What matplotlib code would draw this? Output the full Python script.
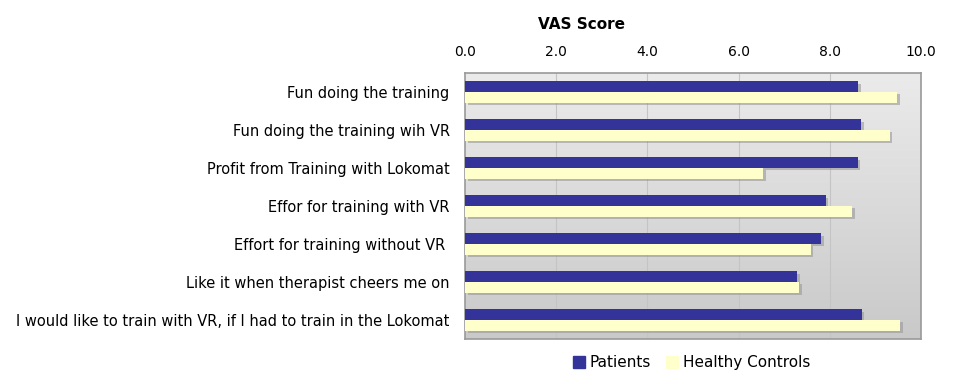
import numpy as np
import matplotlib
matplotlib.use("Agg")
from matplotlib import pyplot as plt
from matplotlib.patches import Patch

# data
labels = ["Fun doing the training",
          "Fun doing the training wih VR",
          "Profit from Training with Lokomat",
          "Effor for training with VR",
          "Effort for training without VR ",
          "Like it when therapist cheers me on",
          "I would like to train with VR, if I had to train in the Lokomat"]
patients = [8.62, 8.68, 8.61, 7.91, 7.81, 7.29, 8.70]
controls = [9.47, 9.31, 6.53, 8.49, 7.58, 7.33, 9.54]
ticks = [0, 2, 4, 6, 8, 10]

c_pat = "#343399"
c_con = "#ffffcc"

fig = plt.figure(figsize=(9.7, 3.82), dpi=100)
ax = fig.add_axes([0.4794, 0.1126, 0.4701, 0.6963])

n = len(labels)
y = np.arange(n)
h = 0.28

# gradient background
grad = np.linspace(0, 1, 256).reshape(-1, 1)
ax.imshow(grad, extent=[0, 10, n - 0.5, -0.5], aspect="auto",
          cmap=matplotlib.colors.LinearSegmentedColormap.from_list("g", ["#ebebeb", "#c9c9c9"]),
          zorder=0)

for t in ticks[1:-1]:
    ax.axvline(t, color="#c4c4c4", lw=0.8, zorder=1)

# shadows
sx, sy = 0.06, 0.06
ax.barh(y - h / 2 + sy, patients, height=h, left=sx, color="#999999", alpha=0.6, zorder=2)
ax.barh(y + h / 2 + sy, controls, height=h, left=sx, color="#999999", alpha=0.6, zorder=2)

ax.barh(y - h / 2, patients, height=h, color=c_pat, zorder=3)
ax.barh(y + h / 2, controls, height=h, color=c_con, zorder=3)

ax.set_xlim(0, 10)
ax.set_ylim(n - 0.5, -0.5)
ax.set_yticks(y)
ax.set_yticklabels(labels, fontsize=10.5)
ax.set_xticks(ticks)
ax.set_xticklabels(["%.1f" % t for t in ticks], fontsize=10)
ax.xaxis.tick_top()
ax.tick_params(axis="x", length=0, pad=10)
ax.tick_params(axis="y", length=0, pad=11)
for s in ax.spines.values():
    s.set_color("#999999")
    s.set_linewidth(1.2)

fig.text(0.60, 0.935, "VAS Score", ha="center", va="center", fontsize=11, fontweight="bold")

handles = [Patch(color=c_pat, label="Patients"), Patch(color=c_con, label="Healthy Controls")]
fig.legend(handles=handles, loc="center", bbox_to_anchor=(0.713, 0.05), ncol=2, frameon=False,
           fontsize=11, handlelength=0.8, handleheight=0.8, handletextpad=0.3, columnspacing=1.0)

fig.savefig("out.png", dpi=100)
